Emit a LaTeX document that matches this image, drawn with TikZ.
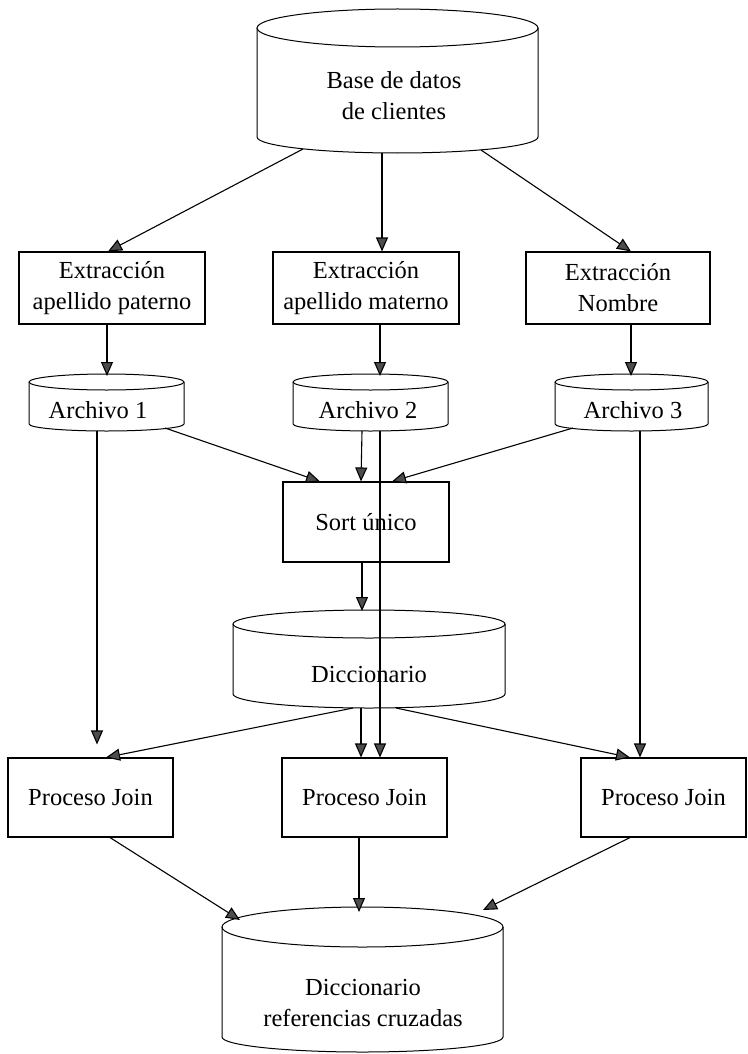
\documentclass[tikz,border=0pt]{standalone}
\usepackage{fontspec}
\setmainfont{Liberation Serif}
\usetikzlibrary{arrows.meta,calc}

% drum (database) outline: centre x, top-ellipse y, bottom y, x radius, top y radius, bottom y radius
\newcommand{\drum}[6]{%
  \draw[drumline] ({#1-#4},#2) -- ({#1-#4},#3)
    arc[start angle=180,end angle=360,x radius=#4pt,y radius=#6pt]
    -- ({#1+#4},#2);
  \draw[drumline] (#1,#2) ellipse[x radius=#4pt,y radius=#5pt];
}

\begin{document}
\begin{tikzpicture}[x=1pt,y=-1pt,
  lbl/.style={font=\fontsize{24.5}{31}\selectfont, align=center, inner sep=0pt},
  box/.style={lbl, draw, line width=1.1pt, rectangle},
  drumline/.style={line width=1pt},
  flow/.style={line width=1.1pt, -{Triangle[length=14pt,width=12pt,fill=black!70]}}]

\useasboundingbox (0,0) rectangle (747,1054);

% ---- storage drums ----
\drum{397.5}{28}{137}{140.5}{19}{16}
\node[lbl] (db) at (394,96) {Base de datos\\de clientes};

\drum{106.5}{382}{424}{77.5}{8}{7}
\node[lbl] (a1) at (98,410) {Archivo 1};
\drum{370.5}{382}{424}{77.5}{8}{7}
\node[lbl] (a2) at (368,410) {Archivo 2};
\drum{631.5}{382}{424}{76.5}{8}{7}
\node[lbl] (a3) at (633,410) {Archivo 3};

\drum{369}{624}{694}{136}{14}{14}
\node[lbl] (dic) at (369,675) {Diccionario};

\drum{362.5}{927}{1037}{140.5}{20}{15}
\node[lbl] (xref) at (363,1003) {Diccionario\\referencias cruzadas};

% ---- process boxes ----
\node[box, minimum width=186pt, minimum height=72pt] (b1) at (112,288) {Extracción\\apellido paterno};
\node[box, minimum width=186pt, minimum height=72pt] (b2) at (366,288) {Extracción\\apellido materno};
\node[box, minimum width=184pt, minimum height=72pt] (b3) at (618,288) {Extracción\\Nombre};

\node[box, minimum width=166pt, minimum height=80pt] (sort) at (366,522) {Sort único};

\node[box, minimum width=165pt, minimum height=79pt] (j1) at (90.5,797.5) {Proceso Join};
\node[box, minimum width=165pt, minimum height=79pt] (j2) at (364.5,797.5) {Proceso Join};
\node[box, minimum width=165pt, minimum height=79pt] (j3) at (663.5,797.5) {Proceso Join};

% ---- connector end points ----
\coordinate (db-l) at (303,149);
\coordinate (db-m) at (382,153);
\coordinate (db-r) at (481,150);
\coordinate (b1-n) at ([xshift=-4pt]b1.north);
\coordinate (b2-n) at ([xshift=16pt]b2.north);
\coordinate (b3-n) at ([xshift=13pt]b3.north);
\coordinate (b1-s) at ([xshift=-5pt]b1.south);
\coordinate (b2-s) at ([xshift=14pt]b2.south);
\coordinate (b3-s) at ([xshift=13pt]b3.south);
\coordinate (a1-n) at (107,376);
\coordinate (a2-n) at (380,376);
\coordinate (a3-n) at (631,376);
\coordinate (a1-e) at (165,428);
\coordinate (a1-s) at (97,431);
\coordinate (a2-w) at (362,431);
\coordinate (a2-s) at (380,431);
\coordinate (a3-w) at (573,428);
\coordinate (a3-s) at (640,431);
\coordinate (s-nw) at ([xshift=-46pt]sort.north);
\coordinate (s-n)  at ([xshift=-5pt]sort.north);
\coordinate (s-ne) at ([xshift=26pt]sort.north);
\coordinate (s-s)  at ([xshift=-4pt]sort.south);
\coordinate (dic-n) at (362,611);
\coordinate (dic-s1) at (353,708);
\coordinate (dic-s2) at (361,708);
\coordinate (dic-s3) at (396,708);
\coordinate (j1-gap) at ([xshift=6.5pt,yshift=13pt]j1.north);
\coordinate (j1-n) at ([xshift=15.5pt]j1.north);
\coordinate (j2-n1) at ([xshift=-3.5pt]j2.north);
\coordinate (j2-n2) at ([xshift=15.5pt]j2.north);
\coordinate (j3-n1) at ([xshift=-33.5pt]j3.north);
\coordinate (j3-n2) at ([xshift=-23.5pt]j3.north);
\coordinate (j1-s) at ([xshift=19.5pt]j1.south);
\coordinate (j2-s) at ([xshift=-5.5pt]j2.south);
\coordinate (j3-s) at ([xshift=-33.5pt]j3.south);
\coordinate (x-l) at (240,920);
\coordinate (x-m) at (359,912);
\coordinate (x-r) at (483,910);

% ---- connectors ----
\draw[flow] (db-l) -- (b1-n);
\draw[flow] (db-m) -- (b2-n);
\draw[flow] (db-r) -- (b3-n);

\draw[flow] (b1-s) -- (a1-n);
\draw[flow] (b2-s) -- (a2-n);
\draw[flow] (b3-s) -- (a3-n);

\draw[flow] (a1-e) -- (s-nw);
\draw[flow] (a2-w) -- (s-n);
\draw[flow] (a3-w) -- (s-ne);

\draw[flow] (s-s) -- (dic-n);

\draw[flow] (a1-s) -- (j1-gap);
\draw[flow] (a2-s) -- (j2-n2);
\draw[flow] (a3-s) -- (j3-n2);

\draw[flow] (dic-s1) -- (j1-n);
\draw[flow] (dic-s2) -- (j2-n1);
\draw[flow] (dic-s3) -- (j3-n1);

\draw[flow] (j1-s) -- (x-l);
\draw[flow] (j2-s) -- (x-m);
\draw[flow] (j3-s) -- (x-r);

\end{tikzpicture}
\end{document}
